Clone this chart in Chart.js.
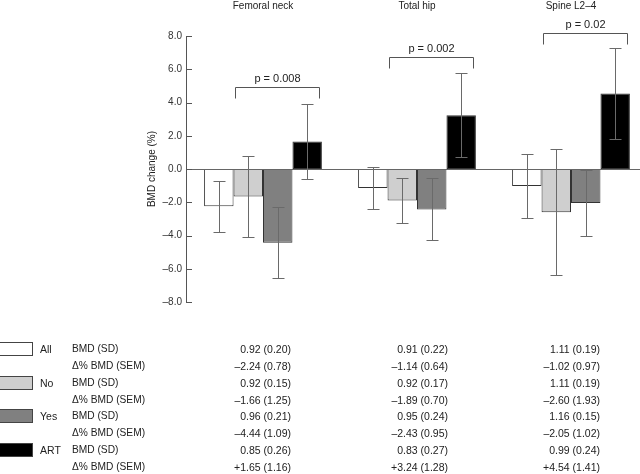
<!DOCTYPE html>
<html>
<head>
<meta charset="utf-8">
<script src="https://cdn.jsdelivr.net/npm/chart.js@4/dist/chart.umd.min.js"></script>
<style>
  html, body { margin: 0; padding: 0; background: #fff; width: 640px; height: 474px; overflow: hidden; }
  #wrap { position: absolute; left: 0; top: 0; width: 650px; height: 312px; }
  #table { position: absolute; left: 0; top: 0; width: 640px; height: 474px; font-family: "Liberation Sans", Arial, sans-serif; font-size: 10.5px; color: #222; }
  #table div.t { position: absolute; white-space: nowrap; line-height: 14px; height: 14px; }
  #table div.lab { font-size: 10.2px; }
  #table div.box { position: absolute; box-sizing: border-box; border: 1px solid #444; }
</style>
</head>
<body>
<div id="wrap"><canvas id="c" width="650" height="312"></canvas></div>
<div id="table"></div>
<script>
// ---- data ----
const categories = ['Femoral neck', 'Total hip', 'Spine L2\u20134'];
const seriesNames = ['All', 'No', 'Yes', 'ART'];
const deltaAll = [-2.24, -1.14, -1.02];
const deltaNo  = [-1.66, -1.89, -2.60];
const deltaYes = [-4.44, -2.43, -2.05];
const deltaArt = [1.65, 3.24, 4.54];
const semAll = [0.78, 0.64, 0.97];
const semNo  = [1.25, 0.70, 1.93];
const semYes = [1.09, 0.95, 1.02];
const semArt = [1.16, 1.28, 1.41];
const bmdAll = [0.92, 0.91, 1.11];
const bmdNo  = [0.92, 0.92, 1.11];
const bmdYes = [0.96, 0.95, 1.16];
const bmdArt = [0.85, 0.83, 0.99];
const sdAll = [0.20, 0.22, 0.19];
const sdNo  = [0.15, 0.17, 0.19];
const sdYes = [0.21, 0.24, 0.15];
const sdArt = [0.26, 0.27, 0.24];
const yTicks = [-8, -6, -4, -2, 0, 2, 4, 6, 8];
const pLabels = ['p = 0.008', 'p = 0.002', 'p = 0.02'];
const pLevels = [4.93, 6.74, 8.17];

const deltas = [deltaAll, deltaNo, deltaYes, deltaArt];
const sems = [semAll, semNo, semYes, semArt];
const bmds = [bmdAll, bmdNo, bmdYes, bmdArt];
const sds = [sdAll, sdNo, sdYes, sdArt];
const fills = ['#ffffff', '#cfcfcf', '#808080', '#000000'];
const FONT = '"Liberation Sans", Arial, sans-serif';

const minus = '\u2013';
function fmtSigned(v) { return (v < 0 ? minus : (v > 0 ? '+' : '')) + Math.abs(v).toFixed(2); }
function fmtTick(v) { return (v < 0 ? minus : '') + Math.abs(v).toFixed(1); }

// error bars (95% CI = 1.96 * SEM), zero line, inward ticks, p-value brackets
const extras = {
  id: 'extras',
  afterDatasetsDraw(chart) {
    const ctx = chart.ctx, y = chart.scales.y, a = chart.chartArea;
    ctx.save();
    ctx.strokeStyle = '#666'; ctx.lineWidth = 1;
    ctx.beginPath();
    const y0 = Math.round(y.getPixelForValue(0)) + 0.5;
    ctx.moveTo(a.left, y0); ctx.lineTo(a.right, y0); ctx.stroke();
    ctx.strokeStyle = '#555';
    yTicks.forEach(t => {
      const py = Math.round(y.getPixelForValue(t)) + 0.5;
      ctx.beginPath(); ctx.moveTo(a.left, py); ctx.lineTo(a.left + 6, py); ctx.stroke();
    });
    ctx.strokeStyle = '#6a6a6a';
    chart.data.datasets.forEach((ds, di) => {
      const meta = chart.getDatasetMeta(di);
      meta.data.forEach((bar, i) => {
        const v = deltas[di][i], e = 1.96 * sems[di][i];
        const x = Math.round(bar.x) + 0.5;
        const yt = Math.round(y.getPixelForValue(v + e)) + 0.5;
        const yb = Math.round(y.getPixelForValue(v - e)) + 0.5;
        ctx.beginPath();
        ctx.moveTo(x, yt); ctx.lineTo(x, yb);
        ctx.moveTo(x - 6, yt); ctx.lineTo(x + 6, yt);
        ctx.moveTo(x - 6, yb); ctx.lineTo(x + 6, yb);
        ctx.stroke();
      });
    });
    const mNo = chart.getDatasetMeta(1), mArt = chart.getDatasetMeta(3);
    ctx.strokeStyle = '#555';
    ctx.fillStyle = '#222';
    ctx.font = '11px ' + FONT;
    ctx.textAlign = 'center'; ctx.textBaseline = 'middle';
    pLabels.forEach((lab, i) => {
      const b1 = mNo.data[i], b2 = mArt.data[i];
      const x1 = Math.round(b1.x - b1.width / 2 + 1.5) + 0.5;
      const x2 = Math.round(b2.x + b2.width / 2 - 2.5) + 0.5;
      const py = Math.round(y.getPixelForValue(pLevels[i])) + 0.5;
      ctx.beginPath();
      ctx.moveTo(x1, py + 11); ctx.lineTo(x1, py); ctx.lineTo(x2, py); ctx.lineTo(x2, py + 11);
      ctx.stroke();
      ctx.fillText(lab, (x1 + x2) / 2, py - 9);
    });
    ctx.restore();
  }
};

new Chart(document.getElementById('c'), {
  type: 'bar',
  data: {
    labels: categories,
    datasets: seriesNames.map((n, i) => ({
      label: n,
      data: deltas[i],
      backgroundColor: fills[i],
      borderColor: '#333',
      borderWidth: 1,
      borderSkipped: false,
      barPercentage: 1.0,
      categoryPercentage: 0.765
    }))
  },
  options: {
    responsive: false,
    animation: false,
    devicePixelRatio: 1,
    layout: { padding: { left: 146, right: 2, top: 0, bottom: 9.5 } },
    plugins: { legend: { display: false }, tooltip: { enabled: false } },
    scales: {
      x: {
        position: 'top',
        grid: { display: false, drawTicks: false },
        border: { display: false },
        ticks: { color: '#222', font: { family: FONT, size: 10 }, padding: 24 },
        afterFit(s) { s.height = 36; }
      },
      y: {
        min: -8, max: 8,
        afterBuildTicks(s) { s.ticks = yTicks.map(v => ({ value: v })); },
        grid: { display: false, drawTicks: false },
        border: { display: true, color: '#555', width: 1 },
        ticks: { color: '#333', font: { family: FONT, size: 10 }, padding: 4, callback: v => fmtTick(v) },
        title: { display: true, text: 'BMD change (%)', color: '#222', font: { family: FONT, size: 10 }, padding: 0 },
        afterFit(s) { s.width = 40; }
      }
    }
  },
  plugins: [extras]
});

// ---- table below the chart ----
const tbl = document.getElementById('table');
const rowY0 = 349, rowStep = 16.86;
const colRight = [291, 448, 600];
function addText(txt, x, yc, alignRight, cls) {
  const d = document.createElement('div');
  d.className = 't' + (cls ? ' ' + cls : '');
  d.textContent = txt;
  d.style.top = (yc - 7) + 'px';
  if (alignRight) { d.style.right = (640 - x) + 'px'; } else { d.style.left = x + 'px'; }
  tbl.appendChild(d);
}
seriesNames.forEach((n, si) => {
  const yc1 = rowY0 + rowStep * (2 * si);
  const yc2 = rowY0 + rowStep * (2 * si + 1);
  const box = document.createElement('div');
  box.className = 'box';
  box.style.left = '-1px'; box.style.top = (yc1 - 7) + 'px';
  box.style.width = '34px'; box.style.height = '14px';
  box.style.background = fills[si];
  tbl.appendChild(box);
  addText(n, 40, yc1, false);
  addText('BMD (SD)', 72, yc1, false, 'lab');
  addText('\u0394% BMD (SEM)', 72, yc2, false, 'lab');
  categories.forEach((c, ci) => {
    addText(bmds[si][ci].toFixed(2) + ' (' + sds[si][ci].toFixed(2) + ')', colRight[ci], yc1, true);
    addText(fmtSigned(deltas[si][ci]) + ' (' + sems[si][ci].toFixed(2) + ')', colRight[ci], yc2, true);
  });
});
</script>
</body>
</html>
